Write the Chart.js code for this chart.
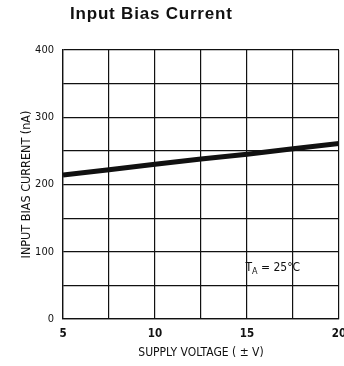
<!DOCTYPE html>
<html>
<head>
<meta charset="utf-8">
<script src="https://cdn.jsdelivr.net/npm/chart.js@4/dist/chart.umd.min.js"></script>
<style>
  html, body { margin: 0; padding: 0; background: #fff; }
  #wrap { width: 344px; height: 366px; position: relative; }
</style>
</head>
<body>
<div id="wrap"><canvas id="chartBias"></canvas></div>
<script>
const TITLE = 'Input Bias Current';
const supplyVoltage = [5, 7.5, 10, 12.5, 15, 17.5, 20];
const biasCurrent = [214, 222, 230, 238, 245, 253, 261];
const yTickLabels = [0, 100, 200, 300, 400];
const xTickLabels = [5, 10, 15, 20];
const NOTE = { v: 16.4, nA: 76, sym: 'T', sub: 'A', rest: ' = 25°C' };

const NARROW = "'Liberation Sans Narrow', 'DejaVu Sans', sans-serif";
const INK = '#111';

const extras = {
  id: 'extras',
  afterDraw(chart) {
    const { ctx, scales: { x, y } } = chart;
    ctx.save();
    ctx.fillStyle = INK;
    // title
    ctx.font = "bold 17px 'Liberation Sans', Arial, sans-serif";
    ctx.letterSpacing = '0.8px';
    ctx.textBaseline = 'middle';
    ctx.textAlign = 'left';
    ctx.fillText(TITLE, 70, 14);
    ctx.letterSpacing = '0px';
    // T_A note
    const px = x.getPixelForValue(NOTE.v), py = y.getPixelForValue(NOTE.nA);
    const big = `condensed 12px ${NARROW}`, small = `condensed 9px ${NARROW}`;
    ctx.font = big;
    const wT = ctx.measureText(NOTE.sym).width;
    ctx.font = small;
    const wA = ctx.measureText(NOTE.sub).width;
    ctx.font = big;
    const wR = ctx.measureText(NOTE.rest).width;
    const sx = px - (wT + wA + wR) / 2;
    ctx.fillText(NOTE.sym, sx, py);
    ctx.font = small;
    ctx.fillText(NOTE.sub, sx + wT, py + 4);
    ctx.font = big;
    ctx.fillText(NOTE.rest, sx + wT + wA, py);
    ctx.restore();
  }
};

new Chart(document.getElementById('chartBias'), {
  type: 'line',
  data: {
    datasets: [{
      data: supplyVoltage.map((v, i) => ({ x: v, y: biasCurrent[i] })),
      borderColor: INK,
      borderWidth: 5,
      pointRadius: 0,
      tension: 0,
      fill: false,
    }]
  },
  options: {
    responsive: true,
    maintainAspectRatio: false,
    animation: false,
    layout: { padding: { top: 50, right: 5, left: 0, bottom: 0 } },
    plugins: { legend: { display: false }, tooltip: { enabled: false } },
    scales: {
      x: {
        type: 'linear', min: 5, max: 20,
        border: { color: INK, width: 1.3 },
        grid: { color: INK, lineWidth: 1.2, drawTicks: false },
        ticks: {
          stepSize: 2.5, padding: 8, color: INK, maxRotation: 0,
          font: { family: NARROW, size: 11.5, weight: 'bold condensed' },
          callback: v => xTickLabels.includes(v) ? String(v) : ''
        },
        title: { display: true, text: 'SUPPLY VOLTAGE ( ± V)', color: INK, padding: { top: 5, bottom: 6 },
                 font: { family: NARROW, size: 12, weight: 'condensed' } },
        afterFit: s => { s.height = 47; s.paddingLeft = 0; s.paddingRight = 0; }
      },
      y: {
        min: 0, max: 400,
        border: { color: INK, width: 1.3 },
        grid: { color: INK, lineWidth: 1.2, drawTicks: false },
        ticks: {
          stepSize: 50, padding: 9, color: INK,
          font: { family: NARROW, size: 11, weight: 'condensed' },
          callback: v => yTickLabels.includes(v) ? String(v) : ''
        },
        title: { display: true, text: 'INPUT BIAS CURRENT (nA)', color: INK, padding: { top: 19, bottom: 6 },
                 font: { family: NARROW, size: 12.5, weight: 'condensed' } },
        afterFit: s => { s.width = 63; }
      }
    }
  },
  plugins: [extras]
});
</script>
</body>
</html>
